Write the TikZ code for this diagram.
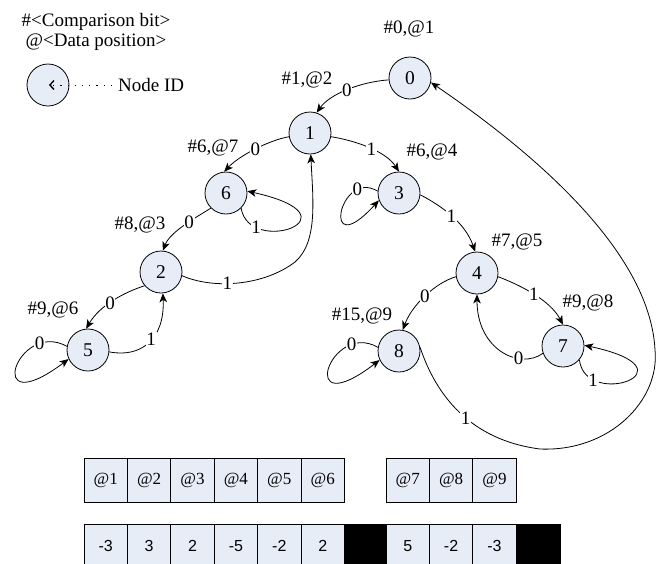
\documentclass[tikz,border=0pt]{standalone}
\usepackage{fontspec}
\setmainfont{Liberation Serif}
\newfontfamily\cellfont{Liberation Sans}
\usetikzlibrary{arrows.meta}
\definecolor{nodefill}{RGB}{231,237,247}

\begin{document}
\begin{tikzpicture}[x=1pt,y=-1pt,
  state/.style={circle, draw, fill=nodefill, minimum size=42pt, inner sep=0pt,
    line width=0.8pt, font=\fontsize{19.5}{19.5}\selectfont},
  info/.style={inner sep=0pt, font=\fontsize{19}{19}\selectfont},
  lab/.style={fill=white, inner sep=0.6pt, font=\fontsize{19}{19}\selectfont},
  link/.style={draw, line width=0.8pt, -{Stealth[length=9pt,width=7.5pt,inset=2.5pt]}},
  cell/.style={draw, fill=nodefill, minimum width=43.4pt, minimum height=44pt,
    inner sep=0pt, line width=0.8pt},
  addr/.style={cell, font=\fontsize{17}{17}\selectfont},
  val/.style={cell, font=\cellfont\fontsize{16}{16}\selectfont},
  hole/.style={fill=black, draw=black, minimum height=44pt, inner sep=0pt},
]
\useasboundingbox (0,0) rectangle (656,563);
\clip (0,0) rectangle (656,563);

% legend
\node[info] (legA) at (96,22) {\#<Comparison bit>};
\node[info] (legB) at (96,42) {@<Data position>};
\node[state] (leg) at (48,85) {};
\node[info, anchor=west] (nid) at (118,85) {Node ID};
\coordinate (legtip) at (49,85);
\draw[line width=0.9pt, dash pattern=on 1.2pt off 6pt,
  -{Straight Barb[length=4pt,width=9pt,line width=1.4pt]}]
  ([xshift=-6pt]nid.west) -- (legtip);

% trie nodes
\node[state] (n0) at (410,78) {0};
\node[state] (n1) at (310,133) {1};
\node[state] (n6) at (226,193) {6};
\node[state] (n3) at (399,193) {3};
\node[state] (n2) at (161,272) {2};
\node[state] (n4) at (477,273) {4};
\node[state] (n5) at (88,350) {5};
\node[state] (n8) at (399,351) {8};
\node[state] (n7) at (563,346) {7};

% comparison bit / data position of each node
\node[info] (t0) at (409,29) {\#0,@1};
\node[info] (t1) at (307,80) {\#1,@2};
\node[info] (t6) at (213,148) {\#6,@7};
\node[info] (t3) at (432,152) {\#6,@4};
\node[info] (t2) at (140,225) {\#8,@3};
\node[info] (t4) at (517,242) {\#7,@5};
\node[info] (t7) at (588,303) {\#9,@8};
\node[info] (t8) at (362,316) {\#15,@9};
\node[info] (t5) at (53,310) {\#9,@6};

% branches
\draw[link] (n0.185) .. controls (360,82) and (330,94) .. (n1.72) node[lab,pos=.5]{0};
\draw[link] (n1.-10) .. controls (352,140) and (385,150) .. (n3.90) node[lab,pos=.55]{1};
\draw[link] (n1.190) .. controls (270,140) and (240,155) .. (n6.95) node[lab,pos=.5]{0};
\draw[link] (n6.225) .. controls (195,218) and (170,232) .. (n2.85) node[lab,pos=.4]{0};
\draw[link] (n6.-45) .. controls (249,257) and (364,217) .. (n6.5) node[lab,pos=.2]{1};
\draw[link] (n2.-10) .. controls (215,290) and (265,285) .. (295,262) node[lab,pos=.4]{1}
  .. controls (318,242) and (313,200) .. (n1.-88);
\draw[link] (n2.220) .. controls (125,292) and (100,305) .. (n5.95) node[lab,pos=.55]{0};
\draw[link] (n5.-5) .. controls (140,358) and (165,340) .. (n2.-85) node[lab,pos=.55]{1};
\draw[link] (n5.170) .. controls (17,319) and (-18,424) .. (n5.205) node[lab,pos=.2]{0};
\draw[link] (n3.175) .. controls (339,168) and (320,265) .. (n3.200) node[lab,pos=.2]{0};
\draw[link] (n3.-5) .. controls (440,205) and (465,222) .. (n4.95) node[lab,pos=.5]{1};
\draw[link] (n4.190) .. controls (435,283) and (412,305) .. (n8.80) node[lab,pos=.5]{0};
\draw[link] (n4.-10) .. controls (520,285) and (550,300) .. (n7.90) node[lab,pos=.5]{1};
\draw[link] (n7.200) .. controls (520,370) and (477,350) .. (n4.-90) node[lab,pos=.3]{0};
\draw[link] (n7.-40) .. controls (585,410) and (700,370) .. (n7.2) node[lab,pos=.2]{1};
\draw[link] (n8.170) .. controls (330,320) and (295,425) .. (n8.205) node[lab,pos=.2]{0};
\draw[link] (n8.10) .. controls (436,395) and (470,440) .. (540,449) node[lab,pos=.55]{1}
  .. controls (610,452) and (660,400) .. (655,350)
  .. controls (650,250) and (530,150) .. (n0.-12);

% data position array
\foreach \i in {1,...,6}
  \node[addr] (a\i) at ({105.7+43.4*(\i-1)},480) {@\i};
\foreach \i in {7,8,9}
  \node[addr] (a\i) at ({407.7+43.4*(\i-7)},480) {@\i};

% data values
\foreach \v [count=\i] in {-3,3,2,-5,-2,2}
  \node[val] (v\i) at ({105.7+43.4*(\i-1)},546) {\v};
\node[hole, minimum width=42pt] (h1) at (365,546) {};
\foreach \v [count=\i] in {5,-2,-3}
  \node[val] (w\i) at ({407.7+43.4*(\i-1)},546) {\v};
\node[hole, minimum width=43pt] (h2) at (538.5,546) {};
\end{tikzpicture}
\end{document}
